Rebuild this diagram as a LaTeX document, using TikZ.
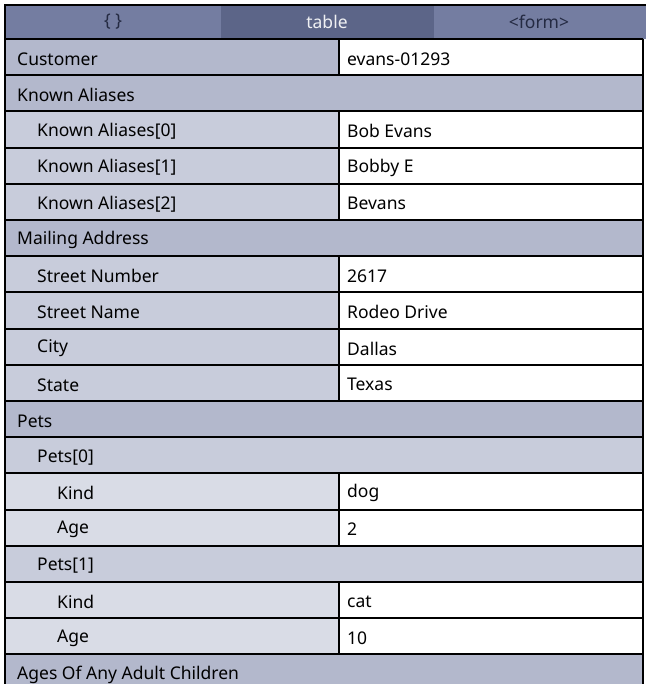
\documentclass[tikz,border=0pt]{standalone}
\usepackage{fontspec}
\setmainfont{Noto Sans}
\definecolor{tabbg}{RGB}{116,125,161}
\definecolor{tabsel}{RGB}{92,101,136}
\definecolor{tabink}{RGB}{36,42,66}
\definecolor{lvl0}{RGB}{179,184,204}
\definecolor{lvl1}{RGB}{200,204,219}
\definecolor{lvl2}{RGB}{217,220,230}
\tikzset{
  cell/.style={anchor=west,inner sep=0pt,font=\fontsize{17.5}{21}\selectfont,text=black},
  tabtext/.style={inner sep=0pt,font=\fontsize{17.5}{21}\selectfont,text=tabink},
  rule/.style={line width=2pt,black}
}
\def\nov{-}
\begin{document}
\begin{tikzpicture}[x=1pt,y=-1pt]
	\useasboundingbox (0,0) rectangle (646,684);
	\clip (0,0) rectangle (646,684);
	% tab bar
	\fill[tabbg] (5,5) rectangle (646,39);
	\fill[tabsel] (221,5) rectangle (434,39);
	\node[tabtext] (tabobj) at (113,22) {\{ \}};
	\node[tabtext,text=white!90!tabsel] (tabtable) at (327,22) {table};
	\node[tabtext] (tabform) at (539,22) {<form>};
	% rows
	\foreach \i/\lv/\key/\val in {
		0/0/Customer/evans-01293,
		1/0/Known Aliases/-,
		2/1/Known Aliases[0]/Bob Evans,
		3/1/Known Aliases[1]/Bobby E,
		4/1/Known Aliases[2]/Bevans,
		5/0/Mailing Address/-,
		6/1/Street Number/2617,
		7/1/Street Name/Rodeo Drive,
		8/1/City/Dallas,
		9/1/State/Texas,
		10/0/Pets/-,
		11/1/Pets[0]/-,
		12/2/Kind/dog,
		13/2/Age/2,
		14/1/Pets[1]/-,
		15/2/Kind/cat,
		16/2/Age/10,
		17/0/Ages Of Any Adult Children/-}{
		\pgfmathsetmacro\ytop{39+36.2*\i}
		\pgfmathsetmacro\ybot{\ytop+36.2}
		\ifx\val\nov
			\fill[lvl\lv] (5,\ytop) rectangle (643,\ybot);
		\else
			\fill[lvl\lv] (5,\ytop) rectangle (339,\ybot);
			\fill[white] (339,\ytop) rectangle (643,\ybot);
			\draw[rule] (339,\ytop) -- (339,\ybot);
			\node[cell] (v\i) at (347,\ytop+20) {\val};
		\fi
		\node[cell] (k\i) at (17+20*\lv,\ytop+20) {\key};
		\draw[rule] (5,\ytop) -- (643,\ytop);
	}
	% frame
	\draw[rule] (5,690) -- (5,5) -- (646,5);
	\draw[rule] (643,39) -- (643,690);
\end{tikzpicture}
\end{document}
